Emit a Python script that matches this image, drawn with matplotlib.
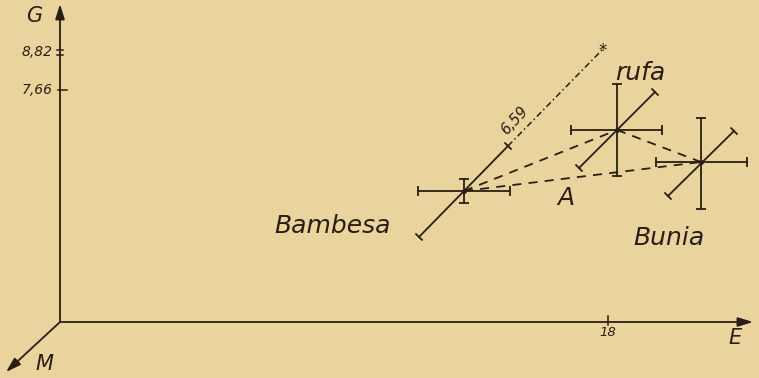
"""Schematic 3-axis diagram (G, E, M) with three populations and spread bars."""

import matplotlib

matplotlib.use("Agg", force=True)
import matplotlib.pyplot as plt
import numpy as np

# drawing units follow the picture: x to the right, y downward
origin = (60, 322)
g_axis_top = 4
e_axis_right = 753
m_axis_end = (6, 372)

g_tick_labels = ["8,82", "7,66"]
g_tick_pos = [52, 90]
e_tick_labels = ["18"]
e_tick_pos = [608]

names = ["Bambesa", "rufa", "Bunia"]
centre_x = [464, 617, 701]
centre_y = [191, 130, 162]
e_left = [46, 46, 45]
e_right = [46, 45, 46]
g_up = [12, 46, 44]
g_down = [12, 46, 47]
m_low = [(-45, 46), (-38, 38), (-33, 34)]   # diagonal (M) spread, lower-left end
m_high = [(44, -45), (38, -38), (33, -31)]   # upper-right end
label_pos = [(333, 226), (640, 73), (669, 238)]

# dash-dot extension from Bambesa along M direction
ext_end = (603, 49)
ext_label = "6,59"
ext_label_pos = (514, 121)
a_label_pos = (566, 198)

BG = "#e9d49e"
INK = "#2a1d14"
LW = 1.3
FONT = dict(family="DejaVu Sans", style="oblique", color=INK)


def cap(ax, x, y, dx, dy, size=5):
    """Draw a short perpendicular cap at (x, y) for a bar along (dx, dy)."""
    n = np.hypot(dx, dy)
    px, py = -dy / n * size, dx / n * size
    ax.plot([x - px, x + px], [y - py, y + py], color=INK, lw=LW, solid_capstyle="butt")


def capped_bar(ax, x0, y0, x1, y1, caps=(True, True)):
    ax.plot([x0, x1], [y0, y1], color=INK, lw=LW)
    if caps[0]:
        cap(ax, x0, y0, x1 - x0, y1 - y0)
    if caps[1]:
        cap(ax, x1, y1, x1 - x0, y1 - y0)


fig = plt.figure(figsize=(7.59, 3.78), dpi=100)
fig.patch.set_facecolor(BG)
ax = fig.add_axes([0, 0, 1, 1])
ax.set_facecolor(BG)
ax.set_xlim(0, 759)
ax.set_ylim(378, 0)
ax.axis("off")

ox, oy = origin
arrow = dict(arrowstyle="-|>,head_length=0.9,head_width=0.28", color=INK, lw=LW,
             shrinkA=0, shrinkB=0)
ax.annotate("", xy=(ox, g_axis_top), xytext=(ox, oy), arrowprops=arrow)
ax.annotate("", xy=(e_axis_right, oy), xytext=(ox, oy), arrowprops=arrow)
ax.annotate("", xy=m_axis_end, xytext=(ox, oy), arrowprops=arrow)

ax.text(34, 16, "G", fontsize=15, ha="center", va="center", **FONT)
ax.text(735, 338, "E", fontsize=15, ha="center", va="center", **FONT)
ax.text(44, 364, "M", fontsize=15, ha="center", va="center", **FONT)

# G ticks
for lab, y in zip(g_tick_labels, g_tick_pos):
    if lab == "8,82":
        for dy in (-2.5, 2.5):
            ax.plot([ox - 3, ox + 3], [y + dy, y + dy], color=INK, lw=1.1)
    else:
        ax.plot([ox - 2, ox + 7], [y, y], color=INK, lw=1.1)
    ax.text(ox - 7, y, lab, fontsize=10, ha="right", va="center", **FONT)

# E ticks
for lab, x in zip(e_tick_labels, e_tick_pos):
    ax.plot([x, x], [oy - 6, oy + 3], color=INK, lw=1.1)
    ax.text(x, oy + 11, lab, fontsize=9.5, ha="center", va="center", **FONT)

# dashed links between populations
pairs = [(0, 1), (0, 2), (1, 2)]
for i, j in pairs:
    ax.plot([centre_x[i], centre_x[j]], [centre_y[i], centre_y[j]], color=INK,
            lw=LW, ls=(0, (5, 4)))

# spread bars
for k in range(len(names)):
    x, y = centre_x[k], centre_y[k]
    capped_bar(ax, x - e_left[k], y, x + e_right[k], y)
    capped_bar(ax, x, y - g_up[k], x, y + g_down[k])
    capped_bar(ax, x + m_low[k][0], y + m_low[k][1], x + m_high[k][0], y + m_high[k][1])
    ax.plot(x, y, "o", color=INK, ms=2.5)
    ax.text(*label_pos[k], names[k], fontsize=18, ha="center", va="center", **FONT)

# dash-dot extension with star
bx, by = centre_x[0] + m_high[0][0], centre_y[0] + m_high[0][1]
ax.plot([bx, ext_end[0]], [by, ext_end[1]], color=INK, lw=1.1, ls=(0, (4, 2, 1, 2)))
ax.text(ext_end[0], ext_end[1] + 2, "*", fontsize=12, ha="center", va="center", color=INK)
ax.text(*ext_label_pos, ext_label, fontsize=10.5, rotation=47, ha="center", va="center", **FONT)

ax.text(*a_label_pos, "A", fontsize=18, ha="center", va="center", **FONT)

fig.savefig("out.png", dpi=100, facecolor=BG)
plt.close(fig)
